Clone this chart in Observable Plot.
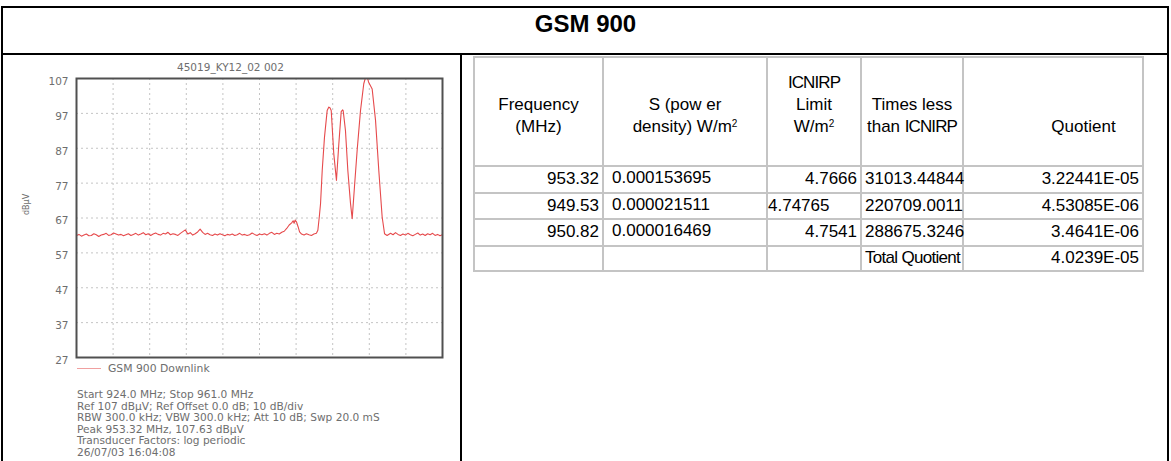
<!DOCTYPE html>
<html>
<head>
<meta charset="utf-8">
<script src="https://cdn.jsdelivr.net/npm/d3@7"></script>
<script src="https://cdn.jsdelivr.net/npm/@observablehq/plot@0.6"></script>
<style>
  html, body { margin: 0; padding: 0; background: #fff; }
  body { width: 1171px; height: 461px; position: relative; overflow: hidden; font-family: "Liberation Sans", Arial, sans-serif; }
  #outer { position: absolute; left: 1px; top: 6px; width: 1168px; height: 470px; border: 2px solid #000; box-sizing: border-box; }
  #title { position: absolute; left: 0; top: 6px; width: 1171px; text-align: center; font-weight: bold; font-size: 24px; line-height: 36px; }
  #sep { position: absolute; left: 1px; top: 53px; width: 1168px; height: 2px; background: #000; }
  #vdiv { position: absolute; left: 460px; top: 53px; width: 2px; height: 420px; background: #000; }
  #chart { position: absolute; left: 0; top: 55px; }
  .ct { font-family: "DejaVu Sans", Verdana, sans-serif; color: #6e6e6e; }
  #ctitle { position: absolute; left: 177px; top: 61px; font-size: 10.5px; }
  #legend { position: absolute; left: 77px; top: 362px; font-size: 10.8px; display: flex; align-items: center; }
  #legend .sw { width: 24px; height: 0; border-top: 1.5px solid #f0a0a0; margin-right: 7px; }
  #info { position: absolute; left: 77px; top: 389px; font-size: 10.6px; line-height: 11.5px; white-space: pre; }
  table { position: absolute; left: 473px; top: 56px; border-collapse: collapse; table-layout: fixed; width: 671px; font-size: 17px; }
  td { border: 2px solid #c4c4c4; padding: 0 3px; height: 23.5px; line-height: 20px; white-space: nowrap; overflow: visible; }
  tr.head td { vertical-align: bottom; text-align: center; height: 80px; padding-bottom: 27px; line-height: 22px; white-space: normal; }
  tr.head td.qh { padding-left: 64px; }
  sup { font-size: 10px; vertical-align: 5px; line-height: 0; }
  .cond { letter-spacing: -0.9px; }
  .r { text-align: right; }
  .l { text-align: left; padding-left: 8px; vertical-align: top; padding-top: 1px; }
  .l0 { text-align: left; padding-left: 0; }
</style>
</head>
<body>
<div id="outer"></div>
<div id="title">GSM 900</div>
<div id="sep"></div>
<div id="vdiv"></div>
<div id="chart"></div>
<div id="ctitle" class="ct"></div>
<div id="legend" class="ct"><div class="sw"></div><span id="legtext"></span></div>
<div id="info" class="ct"></div>
<table id="tbl"></table>
<script>
// ---- Data ----
const chartTitle = "45019_KY12_02 002";
const seriesName = "GSM 900 Downlink";
const infoLines = [
  "Start 924.0 MHz; Stop 961.0 MHz",
  "Ref 107 dBµV; Ref Offset 0.0 dB; 10 dB/div",
  "RBW 300.0 kHz; VBW 300.0 kHz; Att 10 dB; Swp 20.0 mS",
  "Peak 953.32 MHz, 107.63 dBµV",
  "Transducer Factors: log periodic",
  "26/07/03 16:04:08"
];
const yTicks = [27, 37, 47, 57, 67, 77, 87, 97, 107];
const gridLevels = [37, 47, 57, 67, 77, 87, 97];
const gridFreqs = [927.7, 931.4, 935.1, 938.8, 942.5, 946.2, 949.9, 953.6, 957.3];
const yLabel = "dBµV";

const freqMHz = [
  924.00,924.25,924.50,924.75,925.00,925.25,925.50,925.75,926.00,926.25,926.50,926.75,
  927.00,927.25,927.50,927.75,928.00,928.25,928.50,928.75,929.00,929.25,929.50,929.75,
  930.00,930.25,930.50,930.75,931.00,931.25,931.50,931.75,932.00,932.25,932.50,932.75,
  933.00,933.25,933.50,933.75,934.00,934.25,934.50,934.75,935.00,935.25,935.50,935.75,
  936.00,936.25,936.50,936.75,937.00,937.25,937.50,937.75,938.00,938.25,938.50,938.75,
  939.00,939.25,939.50,939.75,940.00,940.25,940.50,940.75,941.00,941.25,941.50,941.75,
  942.00,942.25,942.50,942.75,943.00,943.25,943.50,943.75,944.00,944.25,944.50,944.75,
  945.00,945.25,945.50,945.75,945.90,946.00,946.10,946.25,946.40,946.55,946.75,947.00,
  947.25,947.50,947.75,948.00,948.25,948.40,948.55,948.67,948.84,949.07,949.34,949.51,
  949.62,949.75,950.01,950.28,950.52,950.76,950.90,950.96,951.19,951.43,951.70,951.87,
  952.10,952.38,952.71,953.04,953.25,953.40,953.52,953.89,954.23,954.56,954.90,955.14,
  955.40,955.75,956.00,956.25,956.50,956.75,957.00,957.25,957.50,957.75,958.00,958.25,
  958.50,958.75,959.00,959.25,959.50,959.75,960.00,960.25,960.50,960.75,961.00
];
const levelDbuV = [
  62.0,62.3,61.8,62.1,62.4,61.9,62.0,62.5,62.2,61.7,62.1,62.3,
  62.6,62.0,62.2,62.7,62.4,62.1,62.3,61.9,62.2,62.5,62.0,62.3,
  62.6,62.1,62.4,62.8,62.2,62.5,62.0,62.4,62.7,62.3,62.1,62.6,
  62.4,62.9,62.2,62.5,62.3,62.0,62.6,63.1,63.6,62.4,62.8,62.1,
  62.5,63.0,63.8,62.9,62.3,62.6,62.2,62.0,62.4,62.1,62.5,62.2,
  61.9,62.3,62.1,62.4,62.0,62.2,62.6,62.1,62.3,62.0,62.2,62.7,
  62.3,62.0,62.4,62.2,62.5,62.1,62.6,62.9,62.3,62.6,62.4,62.9,
  63.2,64.0,65.0,65.6,66.2,65.5,66.4,65.8,64.5,63.0,62.4,62.1,
  62.5,62.2,62.0,62.4,62.6,63.5,67.5,71.1,80.6,90.2,97.8,98.8,
  98.6,97.8,85.4,77.8,88.3,97.5,98.0,97.8,92.1,80.6,71.2,66.8,
  75.9,86.7,97.8,105.5,107.6,107.4,106.0,104.0,95.0,80.6,67.3,62.5,
  62.0,62.6,62.2,62.8,62.3,62.0,62.4,62.1,62.6,62.2,61.9,62.3,
  62.7,62.1,62.4,62.0,62.5,62.2,62.6,62.0,62.3,61.9,62.2
];

// Table data
const headers = [
  "Frequency<br>(MHz)",
  "S (pow er<br>density) W/m<sup>2</sup>",
  "<span class='cond'>ICNIRP</span><br>Limit<br>W/m<sup>2</sup>",
  "Times less<br>than <span class='cond'>ICNIRP</span>",
  "Quotient"
];
const rowFreq = ["953.32", "949.53", "950.82"];
const rowS = ["0.000153695", "0.000021511", "0.000016469"];
const rowLimit = ["4.7666", "4.74765", "4.7541"];
const rowTimes = ["31013.44844", "220709.0011", "288675.3246"];
const rowQuot = ["3.22441E-05", "4.53085E-06", "3.4641E-06"];
const totalLabel = "Total Quotient";
const totalValue = "4.0239E-05";

// ---- Chart ----
const trace = freqMHz.map((f, i) => ({f, v: levelDbuV[i]}));
const plot = Plot.plot({
  width: 460,
  height: 316,
  marginLeft: 76,
  marginRight: 18,
  marginTop: 23,
  marginBottom: 14,
  style: {background: "transparent", fontFamily: "'DejaVu Sans', Verdana, sans-serif"},
  x: {domain: [924, 961], axis: null},
  y: {domain: [27, 107], axis: null},
  marks: [
    Plot.ruleY(gridLevels, {stroke: "#c4c4c4", strokeDasharray: "2,3", strokeWidth: 1}),
    Plot.ruleX(gridFreqs, {stroke: "#c4c4c4", strokeDasharray: "2,3", strokeWidth: 1}),
    Plot.line(trace, {x: "f", y: "v", stroke: "#e64a4c", strokeWidth: 1.1, clip: true}),
    Plot.frame({stroke: "#505050", strokeWidth: 2}),
    Plot.axisY(yTicks, {tickSize: 0, tickPadding: 8, dy: 3, fontSize: 10.5, fill: "#6e6e6e", label: null}),
    Plot.text([yLabel], {frameAnchor: "left", dx: -50, dy: -3, rotate: -90, fontSize: 8, fill: "#6e6e6e"})
  ]
});
document.getElementById("chart").appendChild(plot);
document.getElementById("ctitle").textContent = chartTitle;
document.getElementById("legtext").textContent = seriesName;
document.getElementById("info").textContent = infoLines.join("\n");

// ---- Table ----
const widths = [129, 164, 94, 102, 180];
const tbl = document.getElementById("tbl");
let html = "<colgroup>" + widths.map(w => `<col style="width:${w}px">`).join("") + "</colgroup>";
html += '<tr class="head">' + headers.map((h, i) => `<td${i === 4 ? ' class="qh"' : ''}>${h}</td>`).join("") + "</tr>";
rowFreq.forEach((f, i) => {
  const limCls = rowLimit[i].length > 6 ? "l0" : "r";
  html += `<tr><td class="r">${f}</td><td class="l">${rowS[i]}</td><td class="${limCls}">${rowLimit[i]}</td><td class="r">${rowTimes[i]}</td><td class="r">${rowQuot[i]}</td></tr>`;
});
html += `<tr><td></td><td></td><td></td><td class="l0" style="padding-left:3px;letter-spacing:-0.7px">${totalLabel}</td><td class="r">${totalValue}</td></tr>`;
tbl.innerHTML = html;
</script>
</body>
</html>
